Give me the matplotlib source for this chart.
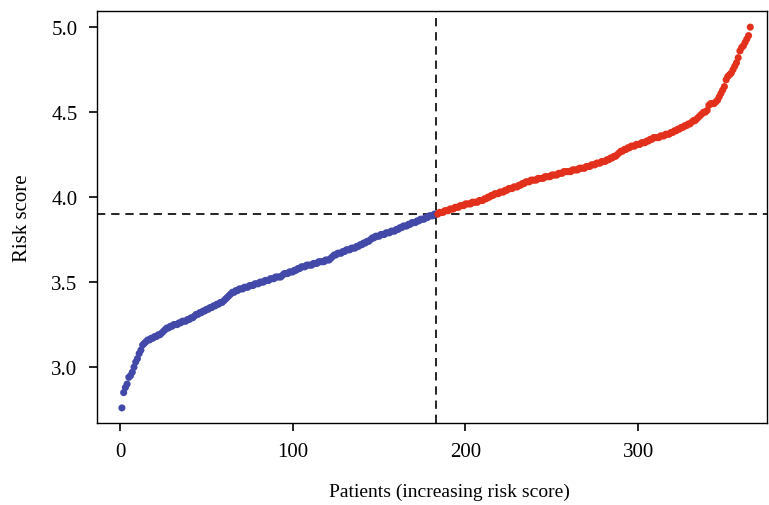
import numpy as np
import matplotlib
matplotlib.use("Agg")
import matplotlib.pyplot as plt

# risk scores, sorted ascending (patients 1..365)
low_risk = [
    2.76, 2.85, 2.88, 2.90, 2.94, 2.95, 2.97, 3.00, 3.03, 3.05,
    3.08, 3.10, 3.13, 3.14, 3.15, 3.16, 3.16, 3.17, 3.17, 3.18,
    3.18, 3.19, 3.19, 3.20, 3.21, 3.22, 3.23, 3.23, 3.24, 3.24,
    3.25, 3.25, 3.25, 3.26, 3.26, 3.27, 3.27, 3.27, 3.28, 3.28,
    3.29, 3.29, 3.30, 3.31, 3.31, 3.32, 3.32, 3.33, 3.33, 3.34,
    3.34, 3.35, 3.35, 3.36, 3.36, 3.37, 3.37, 3.38, 3.38, 3.39,
    3.40, 3.41, 3.42, 3.43, 3.44, 3.44, 3.45, 3.45, 3.46, 3.46,
    3.46, 3.47, 3.47, 3.47, 3.48, 3.48, 3.48, 3.49, 3.49, 3.49,
    3.50, 3.50, 3.50, 3.51, 3.51, 3.51, 3.52, 3.52, 3.52, 3.53,
    3.53, 3.53, 3.53, 3.54, 3.55, 3.55, 3.55, 3.56, 3.56, 3.56,
    3.57, 3.57, 3.58, 3.58, 3.59, 3.59, 3.59, 3.60, 3.60, 3.60,
    3.60, 3.61, 3.61, 3.61, 3.62, 3.62, 3.62, 3.62, 3.63, 3.63,
    3.63, 3.64, 3.65, 3.66, 3.66, 3.67, 3.67, 3.67, 3.68, 3.68,
    3.69, 3.69, 3.69, 3.70, 3.70, 3.70, 3.71, 3.71, 3.72, 3.72,
    3.73, 3.73, 3.74, 3.74, 3.75, 3.76, 3.76, 3.77, 3.77, 3.77,
    3.78, 3.78, 3.78, 3.79, 3.79, 3.79, 3.80, 3.80, 3.80, 3.81,
    3.81, 3.82, 3.82, 3.83, 3.83, 3.83, 3.84, 3.84, 3.85, 3.85,
    3.85, 3.86, 3.86, 3.87, 3.87, 3.87, 3.88, 3.88, 3.89, 3.89,
    3.89, 3.90, 3.90,
]
high_risk = [
    3.90, 3.91, 3.91, 3.91, 3.92, 3.92, 3.92,
    3.93, 3.93, 3.93, 3.94, 3.94, 3.94, 3.95, 3.95, 3.95, 3.96,
    3.96, 3.96, 3.96, 3.97, 3.97, 3.97, 3.97, 3.98, 3.98, 3.98,
    3.99, 3.99, 4.00, 4.00, 4.01, 4.01, 4.02, 4.02, 4.02, 4.03,
    4.03, 4.03, 4.04, 4.04, 4.05, 4.05, 4.05, 4.06, 4.06, 4.06,
    4.07, 4.07, 4.08, 4.08, 4.09, 4.09, 4.09, 4.10, 4.10, 4.10,
    4.10, 4.11, 4.11, 4.11, 4.11, 4.12, 4.12, 4.12, 4.12, 4.13,
    4.13, 4.13, 4.13, 4.14, 4.14, 4.14, 4.15, 4.15, 4.15, 4.15,
    4.15, 4.16, 4.16, 4.16, 4.16, 4.17, 4.17, 4.17, 4.17, 4.18,
    4.18, 4.18, 4.19, 4.19, 4.19, 4.20, 4.20, 4.20, 4.21, 4.21,
    4.21, 4.22, 4.22, 4.23, 4.23, 4.24, 4.24, 4.25, 4.26, 4.27,
    4.27, 4.28, 4.28, 4.29, 4.29, 4.30, 4.30, 4.30, 4.31, 4.31,
    4.31, 4.32, 4.32, 4.32, 4.33, 4.33, 4.34, 4.34, 4.35, 4.35,
    4.35, 4.35, 4.36, 4.36, 4.36, 4.37, 4.37, 4.37, 4.38, 4.38,
    4.39, 4.39, 4.40, 4.40, 4.41, 4.41, 4.42, 4.42, 4.43, 4.43,
    4.44, 4.45, 4.45, 4.46, 4.47, 4.48, 4.49, 4.50, 4.50, 4.51,
    4.54, 4.55, 4.55, 4.55, 4.56, 4.57, 4.59, 4.61, 4.63, 4.65,
    4.69, 4.71, 4.72, 4.73, 4.75, 4.77, 4.79, 4.82, 4.86, 4.88,
    4.89, 4.91, 4.93, 4.95, 5.00,
]
cutoff = 3.9
x_ticks = [0, 100, 200, 300]
y_ticks = [3.0, 3.5, 4.0, 4.5, 5.0]

plt.rcParams['font.family'] = ['Liberation Serif', 'DejaVu Serif']

n_low = len(low_risk)
x_low = np.arange(1, n_low + 1)
x_high = np.arange(n_low + 1, n_low + len(high_risk) + 1)

fig = plt.figure(figsize=(7.69, 5.06), dpi=100)
ax = fig.add_axes([0.126, 0.162, 0.871, 0.814])

ax.scatter(x_low, low_risk, s=26, color='#4249a8', edgecolors='none', zorder=3)
ax.scatter(x_high, high_risk, s=26, color='#e2301c', edgecolors='none', zorder=3)

ax.axvline(n_low, color='black', lw=1.2, ls=(0, (5, 3.5)), zorder=2)
ax.axhline(cutoff, color='black', lw=1.2, ls=(0, (5, 3.5)), zorder=2)

ax.set_xlim(-13.5, 374.5)
ax.set_ylim(2.671, 5.094)
ax.set_xticks(x_ticks)
ax.set_yticks(y_ticks)
ax.set_yticklabels([f"{v:.1f}" for v in y_ticks])
ax.tick_params(direction='out', length=6, width=1.2, labelsize=15, pad=8)

for sp in ax.spines.values():
    sp.set_linewidth(1)

ax.set_xlabel('Patients (increasing risk score)', fontsize=14, labelpad=15)
ax.xaxis.label.set_x(0.527)
ax.set_ylabel('Risk score', fontsize=15, labelpad=14)

fig.savefig('out.png', dpi=100)
